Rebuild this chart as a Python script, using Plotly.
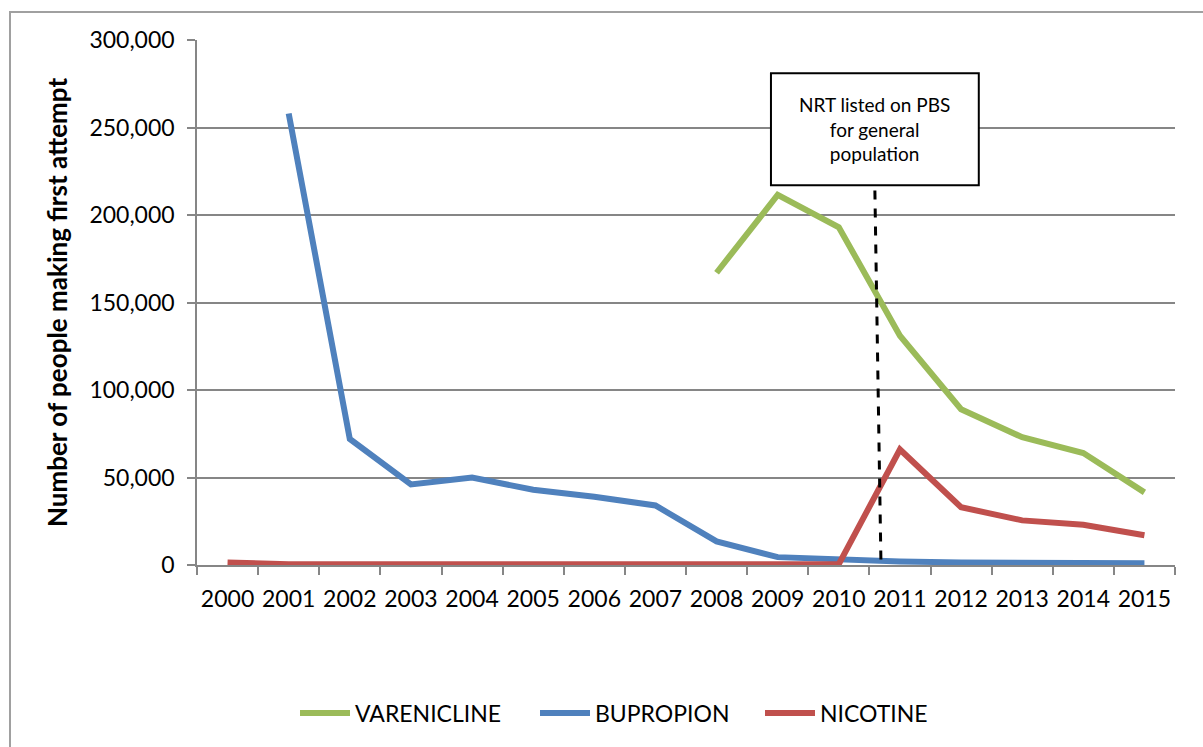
import plotly.graph_objects as go

years = [str(y) for y in range(2000, 2016)]
varenicline = [None, None, None, None, None, None, None, None,
               167000, 211500, 193000, 131000, 89000, 73000, 64000, 41500]
bupropion = [None, 258000, 72000, 46000, 50000, 43000, 39000, 34000,
             13500, 4500, 3200, 2000, 1500, 1500, 1500, 1000]
nicotine = [1500, 500, 500, 500, 500, 300, 300, 300,
            300, 500, 500, 66000, 33000, 25500, 23000, 17000]
series_names = ["VARENICLINE", "BUPROPION", "NICOTINE"]
series_colors = ["#9BBB59", "#4F81BD", "#C0504D"]
y_ticks = [0, 50000, 100000, 150000, 200000, 250000, 300000]
note_text = "NRT listed on PBS<br>for general<br>population"

W, H = 1203, 747
L, R, T, B = 197, 28, 40, 182
pw, ph = W - L - R, H - T - B

def px_x(x):
    return (x - L) / pw

def px_y(y):
    return 1 - (y - T) / ph

legend_ids = ["legend", "legend2", "legend3"]
legend_px = [295, 535, 760]

fig = go.Figure()
for name, vals, col, lg in zip(series_names, [varenicline, bupropion, nicotine],
                               series_colors, legend_ids):
    fig.add_trace(go.Scatter(x=years, y=vals, name=name, mode="lines", legend=lg,
                             line=dict(color=col, width=6), connectgaps=False))

font = "Lato, 'Open Sans', sans-serif"
legend_common = dict(orientation="h", xanchor="left", y=px_y(713), yanchor="middle",
                     font=dict(size=23), itemwidth=50, bgcolor="rgba(0,0,0,0)")
fig.update_layout(
    width=W, height=H,
    margin=dict(l=L, r=R, t=T, b=B, autoexpand=False),
    paper_bgcolor="white", plot_bgcolor="white",
    font=dict(family=font, size=23, color="black"),
    showlegend=True,
    legend=dict(x=px_x(legend_px[0]), **legend_common),
    legend2=dict(x=px_x(legend_px[1]), **legend_common),
    legend3=dict(x=px_x(legend_px[2]), **legend_common),
    xaxis=dict(type="category", range=[-0.5, 15.5], tickson="boundaries",
               ticks="outside", ticklen=8, tickcolor="#868686", tickwidth=1.5,
               showline=True, linecolor="#868686", linewidth=1.5, showgrid=False,
               tickangle=0, automargin=False,
               tickfont=dict(size=23), ticklabelstandoff=13),
    yaxis=dict(range=[0, 300000], tickvals=y_ticks, tickformat=",",
               ticks="outside", ticklen=8, tickcolor="#868686", tickwidth=1.5,
               showline=True, linecolor="#868686", linewidth=1.5,
               showgrid=True, gridcolor="#868686", gridwidth=1.5, zeroline=False,
               tickfont=dict(size=23), ticklabelstandoff=8, automargin=False,
               title=dict(text="<b>Number of people making first attempt</b>",
                          font=dict(size=26), standoff=14)),
)

# outer chart border
fig.add_shape(type="rect", xref="paper", yref="paper",
              x0=px_x(10), x1=px_x(1215), y0=px_y(760), y1=px_y(12),
              line=dict(color="#A0A0A0", width=2), fillcolor="rgba(0,0,0,0)", layer="below")

# dashed vertical line
fig.add_shape(type="line", xref="x", yref="y",
              x0=10.59, x1=10.69, y0=214000, y1=0,
              line=dict(color="black", width=3, dash="dash"))

# note box
fig.add_shape(type="rect", xref="x", yref="y",
              x0=8.89, x1=12.29, y0=217000, y1=281000,
              line=dict(color="black", width=2), fillcolor="white")
fig.add_annotation(x=10.59, y=249000, xref="x", yref="y", text=note_text,
                   showarrow=False, font=dict(size=19, color="black"), align="center")

fig.write_html("out.html", config={"displayModeBar": False},
               post_script="document.body.style.margin='0';")
